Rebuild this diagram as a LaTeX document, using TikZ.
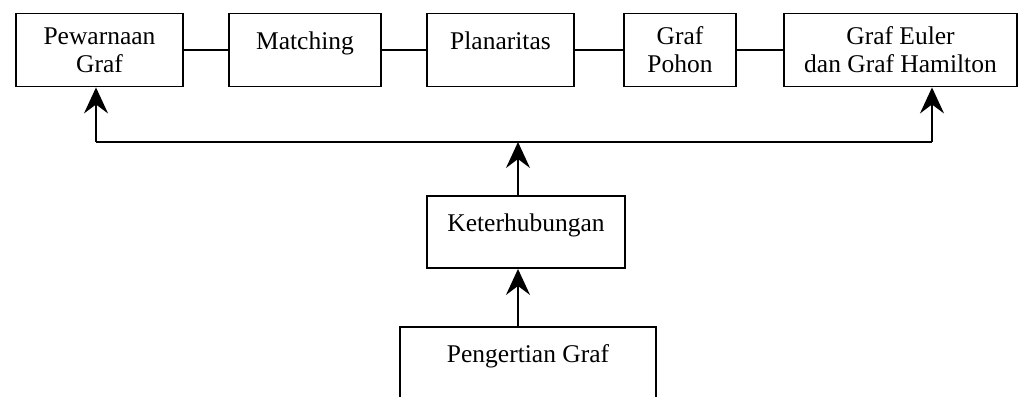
\documentclass[tikz,border=0pt]{standalone}
\usepackage{fontspec}
\setmainfont{Liberation Serif}
\usetikzlibrary{arrows.meta}

\begin{document}
\begin{tikzpicture}[x=1pt, y=-1pt,
        box/.style={rectangle, draw, line width=1.9pt, align=center, inner sep=0pt,
            font=\fontsize{25.5}{28}\selectfont, minimum height=73pt},
        onerow/.style={text height=18pt, text depth=20pt},
        arr/.style={line width=1.9pt, -{Stealth[length=26pt, width=24pt, inset=9pt]}},
        link/.style={line width=1.9pt}]
        \useasboundingbox (0, 0) rectangle (1019, 396);
        \clip (0, 0) rectangle (1019, 396);
        \fill[white] (0, 0) rectangle (1019, 396);
        \node[box, minimum width=167pt] (pewarnaan) at (99.5, 50) {Pewarnaan\\Graf};
        \node[box, onerow, minimum width=152pt] (matching) at (305, 50) {Matching};
        \node[box, onerow, minimum width=147pt] (planaritas) at (500.5, 50) {Planaritas};
        \node[box, minimum width=112pt] (pohon) at (680, 50) {Graf\\Pohon};
        \node[box, minimum width=233pt] (euler) at (900.5, 50) {Graf Euler\\dan Graf Hamilton};
        \node[box, onerow, minimum width=198pt, minimum height=72pt] (keterhubungan) at (526, 232) {Keterhubungan};
        \node[box, minimum width=256pt, minimum height=120pt, text height=18pt, text depth=68pt] (pengertian) at (528, 387) {Pengertian Graf};
        \coordinate (trunk) at (518, 142);
        \coordinate (bendL) at (96, 142);
        \coordinate (bendR) at (932, 142);
        \draw[link] (pewarnaan) -- (matching);
        \draw[link] (matching) -- (planaritas);
        \draw[link] (planaritas) -- (pohon);
        \draw[link] (pohon) -- (euler);
        \draw[link] (bendL) -- (bendR);
        \draw[arr] (bendL) -- (pewarnaan.south -| bendL);
        \draw[arr] (bendR) -- (euler.south -| bendR);
        \draw[arr] (keterhubungan.north -| trunk) -- (trunk);
        \draw[arr] (pengertian.north -| trunk) -- (keterhubungan.south -| trunk);
    \end{tikzpicture}
\end{document}
